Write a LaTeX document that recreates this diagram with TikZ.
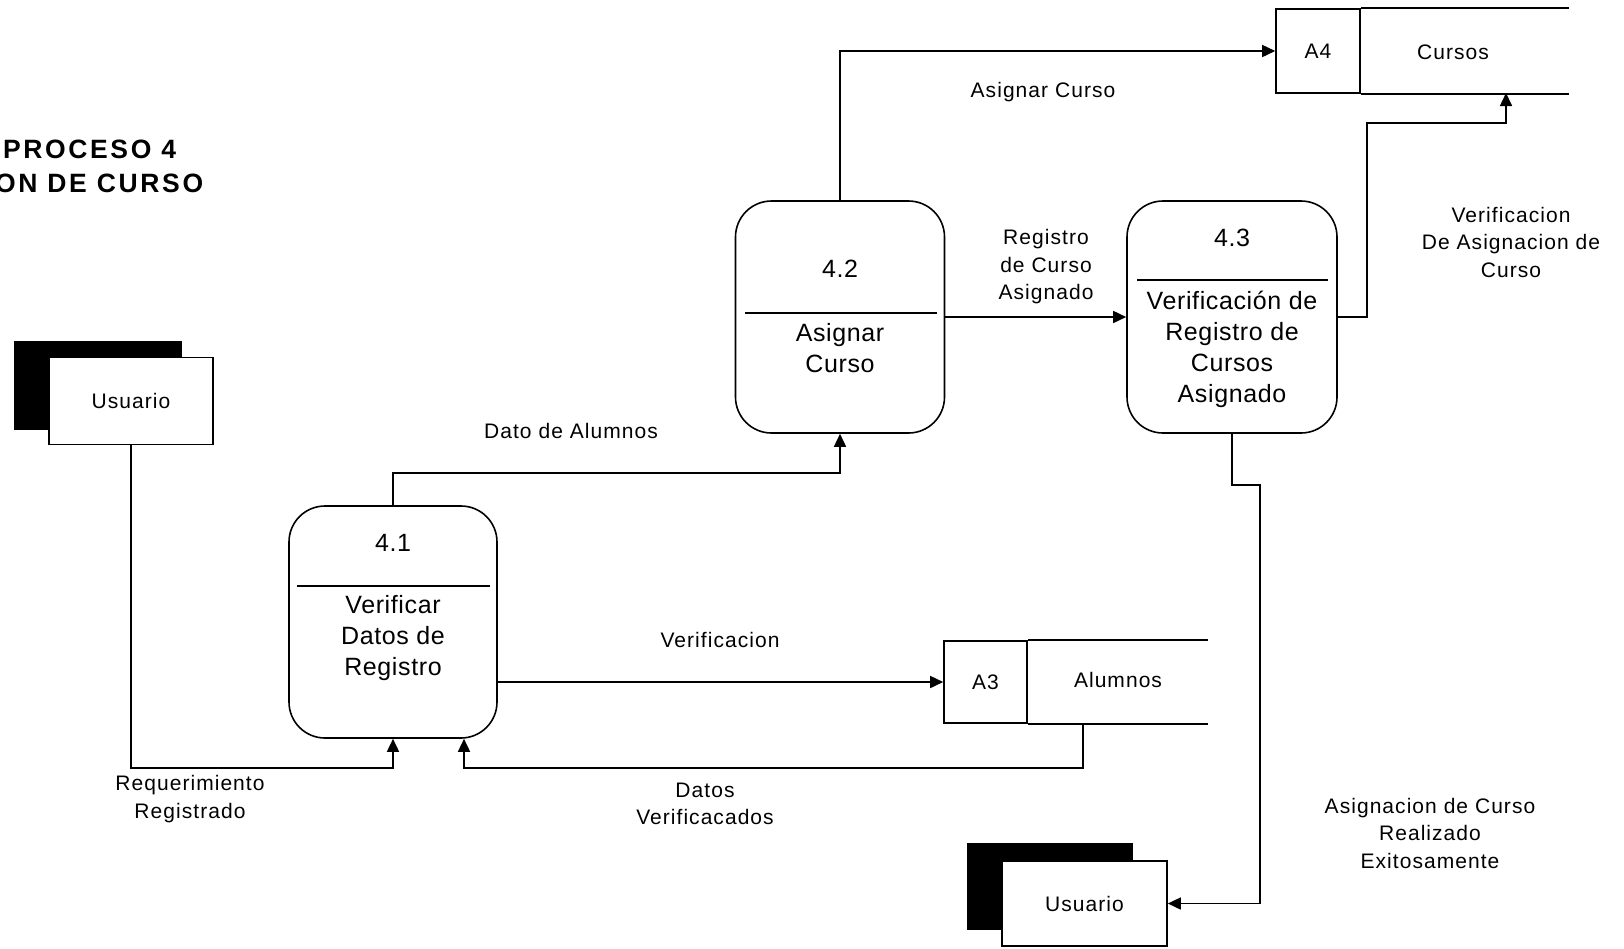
\documentclass[tikz,border=0pt]{standalone}
\usepackage{fontspec}
\setmainfont{Liberation Sans}
\newfontfamily\lblfont[LetterSpace=5]{Liberation Sans}
\newfontfamily\boxfont[LetterSpace=2.5]{Liberation Sans}
\newfontfamily\ttlfont[LetterSpace=10]{Liberation Sans}
\usetikzlibrary{arrows.meta}

\begin{document}
\begin{tikzpicture}[x=1pt,y=-1pt,
  line width=1.6pt,
  flow/.style={-{Triangle[length=13pt,width=12pt]}, line width=1.6pt},
  procbox/.style={draw, rounded corners=36pt, minimum height=232pt, inner sep=0pt},
  proctext/.style={font=\boxfont\fontsize{25}{31}\selectfont, align=center, inner sep=0pt},
  lbl/.style={font=\lblfont\fontsize{21}{27.5}\selectfont, align=center, inner sep=0pt},
  titletext/.style={font=\ttlfont\bfseries\fontsize{26.5}{32}\selectfont, inner sep=0pt, anchor=east},
  storeid/.style={draw, inner sep=0pt, font=\lblfont\fontsize{21}{27.5}\selectfont},
  entity/.style={draw, fill=white, inner sep=0pt, font=\lblfont\fontsize{21}{27.5}\selectfont},
]
\useasboundingbox (0,0) rectangle (1624,948);

% title (its left part runs past the page edge)
\node[titletext] (t1) at (177,149) {PROCESO 4};
\node[titletext] (t2) at (204,183) {ON DE CURSO};

% external entities
\fill (14,341) rectangle (182,430);
\node[entity, minimum width=164pt, minimum height=87pt] (u1) at (131,401) {Usuario};
\fill (967,843) rectangle (1133,930);
\node[entity, minimum width=165pt, minimum height=85pt] (u2) at (1084.5,903.5) {Usuario};

% processes
\node[procbox, minimum width=208pt] (p41) at (393,622) {};
\draw (297,586) -- (490,586);
\node[proctext] (p41n) at (393,543) {4.1};
\node[proctext] (p41t) at (393,638) {Verificar\\Datos de\\Registro};

\node[procbox, minimum width=209pt] (p42) at (840,317) {};
\draw (745,313) -- (937,313);
\node[proctext] (p42n) at (840,269) {4.2};
\node[proctext] (p42t) at (840,348) {Asignar\\Curso};

\node[procbox, minimum width=210pt] (p43) at (1232,317) {};
\draw (1137,280) -- (1328,280);
\node[proctext] (p43n) at (1232,238) {4.3};
\node[proctext] (p43t) at (1232,349) {Verificación de\\Registro de\\Cursos\\Asignado};

% data stores
\node[storeid, minimum width=84pt, minimum height=84pt] (a4id) at (1318,51) {A4};
\draw (a4id.north east) -- ++(208,0);
\draw (a4id.south east) -- ++(208,0);
\node[lbl] (a4n) at (1453,52) {Cursos};

\node[storeid, minimum width=83pt, minimum height=82pt] (a3id) at (985.5,682) {A3};
\draw (a3id.north east) -- ++(180,0);
\draw (a3id.south east) -- ++(180,0);
\node[lbl] (a3n) at (1118,680) {Alumnos};

\coordinate (bus) at (0,768);
\coordinate (a3tap) at (1083,723);
\coordinate (a4tap) at (1506,93);

% data flows
\draw[flow] (u1.south) -- (u1.south |- bus) -| (p41.south);
\draw[flow] (a3tap) -- (a3tap |- bus) -| ([xshift=71pt]p41.south);
\draw[flow] (p41.east |- a3id.west) -- (a3id.west);
\draw[flow] (p41.north) -- ++(0,-32) -| (p42.south);
\draw[flow] (p42.north) |- (a4id.west);
\draw[flow] (p42.east) -- (p43.west);
\draw[flow] (p43.east) -- ++(29,0) -- ++(0,-194) -| (a4tap);
\draw[flow] (p43.south) -- ++(0,51) -- ++(28,0) |- (u2.east);

% flow labels
\node[lbl] (l1) at (1043,92) {Asignar Curso};
\node[lbl] (l2) at (1046,267) {Registro\\de Curso\\Asignado};
\node[lbl] (l3) at (1511,242) {Verificacion\\De Asignacion de\\Curso};
\node[lbl] (l4) at (571,431) {Dato de Alumnos};
\node[lbl] (l5) at (720,640) {Verificacion};
\node[lbl] (l6) at (705,804) {Datos\\Verificacados};
\node[lbl] (l7) at (190,799) {Requerimiento\\Registrado};
\node[lbl] (l8) at (1430,833) {Asignacion de Curso\\Realizado\\Exitosamente};
\end{tikzpicture}
\end{document}
